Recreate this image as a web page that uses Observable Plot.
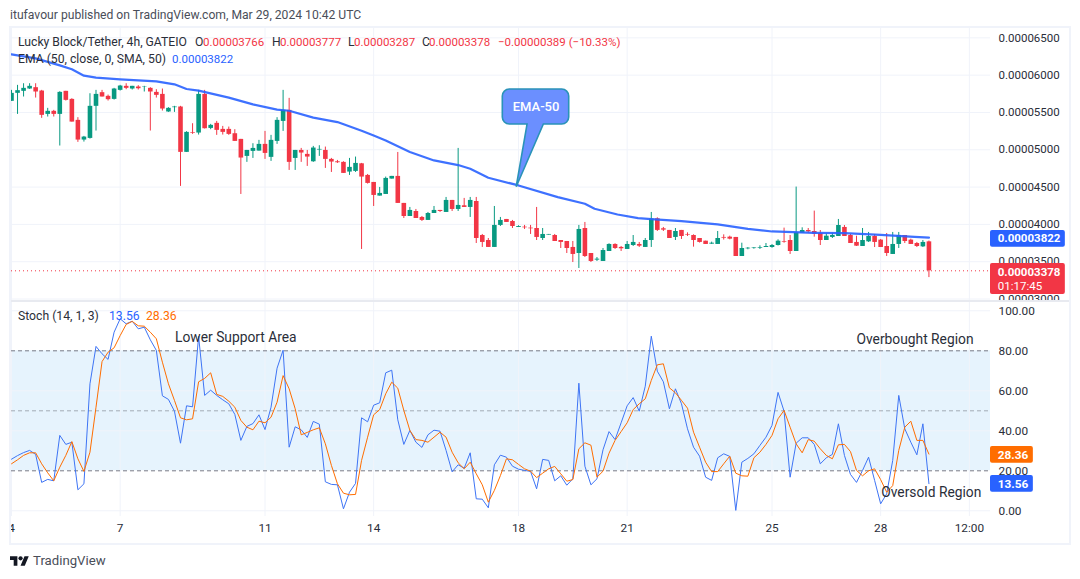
<!DOCTYPE html>
<html>
<head>
<meta charset="utf-8">
<script src="https://cdn.jsdelivr.net/npm/d3@7"></script>
<script src="https://cdn.jsdelivr.net/npm/@observablehq/plot@0.6"></script>
<style>
  html, body { margin: 0; background: #fff; }
  body { width: 1080px; height: 579px; position: relative; overflow: hidden; font-family: Roboto, sans-serif; color: #2a2e39; }
  .abs { position: absolute; white-space: pre; font-size: 12.2px; line-height: 16px; }
  .num { font-size: 11.5px; }
  .frame { position: absolute; left: 9px; top: 26px; width: 1058px; height: 515px; border: 2px solid #f0f3fa; }
  .sep { position: absolute; left: 11px; top: 300px; width: 1058px; height: 2px; background: #e8eaf0; }
  #top, #bottom { position: absolute; left: 11px; }
  #top { top: 28px; } #bottom { top: 302px; }
  .up { color: #f23645; } .blue { color: #2962ff; } .orange { color: #ff6d00; } .gray { color: #4a4e59; }
</style>
</head>
<body>
<div id="top"></div>
<div id="bottom"></div>
<div class="frame"></div>
<div class="sep"></div>
<div class="abs gray" style="left:10px;top:7px;font-size:12.15px">itufavour published on TradingView.com, Mar 29, 2024 10:42 UTC</div>
<div class="abs" style="left:18px;top:34px">Lucky Block/Tether, 4h, GATEIO</div>
<div class="abs" style="left:195px;top:34px">O</div><div class="abs num up" style="left:203px;top:34px">0.00003766</div>
<div class="abs" style="left:272px;top:34px">H</div><div class="abs num up" style="left:280px;top:34px">0.00003777</div>
<div class="abs" style="left:348px;top:34px">L</div><div class="abs num up" style="left:354px;top:34px">0.00003287</div>
<div class="abs" style="left:422px;top:34px">C</div><div class="abs num up" style="left:429px;top:34px">0.00003378</div>
<div class="abs num up" style="left:498px;top:34px">−0.00000389 (−10.33%)</div>
<div class="abs" style="left:18px;top:51px">EMA (50, close, 0, SMA, 50)</div>
<div class="abs num blue" style="left:172px;top:51px">0.00003822</div>
<div class="abs" style="left:18px;top:308px">Stoch (14, 1, 3)</div>
<div class="abs blue" style="left:109px;top:308px">13.56</div>
<div class="abs orange" style="left:146px;top:308px">28.36</div>
<svg style="position:absolute;left:10px;top:556px" width="19" height="10" viewBox="0 0 36 18"><path fill="#131722" d="M14 18H7V7H0V0h14v18zM28 18h-8L27.5 0h8L28 18z"/><circle cx="20" cy="4" r="4" fill="#131722"/></svg>
<div class="abs gray" style="left:33px;top:553px;font-size:13.2px">TradingView</div>
<script>
// prices in 1e-8 units, one entry per 4h bar
const open = [5649,5756,5783,5814,5832,5787,5474,5515,5474,5783,5675,5394,5130,5152,5582,5765,5716,5675,5796,5850,5814,5841,5836,5823,5769,5742,5506,5564,5573,4965,5228,5224,5742,5286,5354,5273,5273,5215,5139,4911,4978,4982,5072,4898,5112,5380,5528,4884,4991,4938,4839,4996,4991,4871,4839,4831,4701,4710,4812,4656,4562,4379,4401,4607,4643,4281,4106,4173,4093,4053,4146,4187,4160,4321,4200,4249,4227,4307,3851,3784,3691,3986,4066,4039,3959,3963,3950,3945,3811,3856,3851,3784,3771,3691,3610,3945,3610,3521,3503,3637,3731,3691,3664,3717,3731,3691,3784,4075,3941,3919,3825,3919,3865,3851,3811,3775,3735,3731,3825,3829,3825,3570,3672,3676,3681,3690,3690,3717,3771,3784,3637,3882,3918,3905,3878,3784,3825,3838,3959,3851,3758,3704,3766,3838,3789,3704,3597,3731,3851,3789,3744,3699,3766];
const high = [5796,5863,5885,5885,5885,5796,5555,5528,5778,5783,5684,5430,5179,5751,5796,5796,5733,5823,5863,5885,5850,5859,5850,5832,5805,5814,5564,5582,5582,5242,5349,5796,5796,5340,5380,5313,5304,5269,5139,4991,5081,5126,5246,5193,5430,5796,5689,4991,5018,4991,5045,5054,5036,4884,4857,4839,4884,4902,4817,4669,4562,4495,4634,4643,4964,4281,4227,4200,4106,4160,4240,4187,4361,4321,5018,4348,4361,4361,3865,3811,4240,4093,4066,4053,3981,3986,3986,4227,3945,3865,3865,3784,3771,3771,3986,4026,3610,3556,3677,3740,3740,3704,3771,3851,3758,3811,4160,4088,3959,3919,3945,3919,3887,3860,3811,3775,3762,3905,3860,3842,3825,3748,3690,3690,3713,3744,3730,3793,3950,3851,4500,3954,3945,4178,3918,3874,3883,4066,3985,3865,3842,3945,3892,3865,3798,3878,3892,3892,3851,3802,3758,3784,3777];
const low = [5649,5474,5707,5809,5693,5421,5439,5439,5050,5653,5371,5099,5103,5143,5251,5707,5653,5666,5787,5805,5801,5801,5774,5251,5693,5519,5501,5501,4509,4965,5206,5197,5278,5269,5193,5197,5193,5112,4401,4831,4884,4982,4871,4844,5072,5246,4723,4723,4831,4777,4831,4911,4750,4696,4817,4683,4656,4696,3664,4540,4240,4379,4401,4607,4281,4079,4106,4079,4039,4053,4146,4160,4160,4173,4173,4227,4093,3744,3691,3691,3691,3972,4026,3945,3959,3932,3865,3784,3784,3856,3771,3677,3610,3489,3409,3556,3489,3503,3503,3637,3664,3637,3664,3704,3691,3691,3691,3905,3905,3811,3784,3798,3838,3695,3750,3731,3731,3731,3790,3793,3570,3570,3660,3668,3664,3690,3680,3710,3748,3597,3637,3882,3882,3829,3717,3784,3811,3838,3838,3744,3704,3704,3758,3690,3690,3570,3597,3677,3744,3731,3690,3690,3287];
const close = [5756,5792,5823,5850,5774,5461,5515,5474,5769,5662,5371,5130,5170,5582,5742,5707,5671,5814,5854,5823,5850,5818,5841,5774,5729,5546,5555,5573,4965,5233,5219,5742,5282,5327,5260,5233,5206,5112,4889,4991,5018,5072,4951,5126,5394,5528,4831,4991,4956,4902,5023,5005,4871,4835,4826,4683,4764,4817,4634,4549,4388,4415,4616,4643,4281,4106,4187,4079,4053,4146,4187,4173,4321,4200,4254,4227,4321,3811,3758,3691,3986,4053,4026,3972,3972,3954,3941,3825,3865,3865,3771,3758,3677,3597,3932,3570,3503,3534,3650,3731,3677,3673,3731,3758,3708,3784,4071,3919,3923,3811,3905,3838,3856,3784,3758,3731,3748,3811,3815,3802,3570,3677,3681,3684,3690,3704,3717,3775,3762,3637,3887,3918,3900,3869,3784,3842,3851,3985,3838,3744,3708,3784,3838,3758,3690,3610,3731,3851,3771,3731,3704,3758,3378];

const emaIdx = [0,4,8,10,12,14,18,24,27,29,31,36,40,44,46,50,54,58,60,62,66,70,74,76,79,84,90.5,95,96.6,100.4,103.8,106,111,117,122,126,133,138,144,149.6,152];
const emaVals = [6279,6225,6131,6078,5993,5966,5944,5917,5877,5814,5792,5698,5608,5537,5523,5430,5371,5255,5192,5125,4969,4857,4795,4745,4625,4522,4366,4276,4209,4133,4084,4070,4044,4000,3941,3905,3887,3883,3860,3833,3822];

const stochK = [25.8,27.6,29.1,30.2,28.2,14.2,15.7,15,37.7,33.2,34.3,10.5,13.5,63.5,82.2,78.5,75.7,89.3,96,93.5,94.8,91,91.8,85.5,80.2,57.5,55.7,49.8,33.8,52.5,52,87.2,57.7,60.3,57.7,55.5,53.5,48.2,35.2,42.2,43.6,48,40.6,51.8,71.3,80.3,31.8,42,40.5,36.7,44.7,43.3,14.5,13.2,13,1,9.3,13.7,46.5,44.5,52.8,54,69,70.3,45.5,33.2,40.2,34.3,31.7,38,40.3,39.8,30.2,19.5,23,21.3,29,6,5.8,1.5,23,27.8,26.8,22.3,20.8,20.2,19.7,11,25.7,25.2,15,17.5,12.8,16,63.8,22.3,13,16,30.5,39.6,35.6,44,52.5,56.6,49.8,62.3,87.3,69.8,64.5,51,61,53.5,41,31.8,27.3,16.8,15.2,26.5,28.5,27.2,0.2,24.3,26.2,28.5,32.7,36.8,42.7,59.2,49.8,16.8,33.8,36.5,36.5,33.2,23.5,26.5,28.2,43.5,27.7,18.2,14.2,20.2,26.8,15.2,3.5,8.5,25.2,57.7,41,34.3,28,43.5,13.56];
const stochD = [23.5,25.5,27.7,29,29,23.5,19,15,21.8,27.7,34.6,26,19.7,29.3,51.8,74.6,79.3,81.5,87.6,93.2,94.7,92.5,92.3,89.3,86,74.3,63.5,55.2,46.5,45.5,46,64.5,66.2,69,58.2,57.2,54.8,51.8,45.2,41.8,40.5,44.8,44,46.8,54.3,67.6,61,51,38,39.2,40.5,41.5,33.5,22.7,13.5,8.8,8,8.2,25.2,36.8,48,50.6,58.5,64.3,61.3,50.2,40.2,35.6,35.2,34.3,36.8,39.3,36.8,29.3,24,21,24.3,18.5,13,4.3,10.2,17.6,26,25.5,23.2,21,19.8,16.6,18.8,21,22.2,18.5,14.8,15.6,31,34,32.8,16.8,19.8,28.8,35.2,39.6,44,50.6,53.5,56,65.2,73,73.5,61.5,59,55.2,51.3,39.3,31.8,24.3,19.6,19.6,23.5,27.3,18.8,17.5,17.3,26.5,29.3,33.2,37.7,46,50.2,41.8,33.5,29,35.6,34.8,31,27.7,26,33,33.2,29.6,20.2,17.5,20,21,15.6,9.3,12.6,30.2,41.8,44.8,35.2,35.2,28.36];

const priceTicks = [3000,3500,4000,4500,5000,5500,6000,6500];
const stochTicks = [0,20,40,60,80,100];
const gridStoch = [0,40,60,100];
const dayIdx = [0,18,42,60,84,102,126,144,158.7];
const dayLabels = ["4","7","11","14","18","21","25","28","12:00"];

const green = "#089981", red = "#f23645", blue = "#2962ff", orange = "#ff6d00", grid = "#f0f3fa";
const font = "Roboto, sans-serif";
const xMax = 162.2, tagLeft = 163.4;

const candles = open.map((o, i) => ({i, open: o, high: high[i], low: low[i], close: close[i]}));
const emaRows = emaIdx.map((x, i) => ({x, y: emaVals[i]}));
const kRows = stochK.map((v, i) => ({i, v}));
const dRows = stochD.map((v, i) => ({i, v}));
const candleColor = d => d.close >= d.open ? green : red;

// speech bubble pointing at the EMA line
function callout(index, {x, y}) {
  const x1 = x(81.4), x2 = x(92.4), y1 = y(5807), y2 = y(5338), r = 7;
  const p = d3.path();
  p.moveTo(x1 + r, y1);
  p.arcTo(x2, y1, x2, y2, r);
  p.arcTo(x2, y2, x1, y2, r);
  p.lineTo(x(88.2), y2);
  p.lineTo(x(83.7), y(4498));
  p.lineTo(x(85.5), y2);
  p.arcTo(x1, y2, x1, y1, r);
  p.arcTo(x1, y1, x2, y1, r);
  p.closePath();
  return d3.create("svg:path").attr("d", p.toString())
    .attr("fill", "#6b8fff").attr("stroke", "#2a93b8").attr("stroke-width", 1.6).node();
}

const topChart = Plot.plot({
  width: 1058, height: 272,
  marginLeft: 0, marginRight: 79, marginTop: 0, marginBottom: 0,
  style: {fontFamily: font, fontSize: "11.5px", color: "#2a2e39", background: "transparent"},
  x: {domain: [0, xMax], axis: null},
  y: {domain: [2980, 6625], axis: null},
  marks: [
    Plot.ruleY(priceTicks, {stroke: grid}),
    Plot.ruleX(dayIdx, {stroke: grid}),
    Plot.ruleY([3378], {stroke: red, strokeDasharray: "1,3"}),
    Plot.ruleX(candles, {x: "i", y1: "low", y2: "high", stroke: candleColor, strokeWidth: 1}),
    Plot.ruleX(candles, {x: "i", y1: "open", y2: "close", stroke: candleColor, strokeWidth: 4.6}),
    Plot.line(emaRows, {x: "x", y: "y", stroke: blue, strokeWidth: 2.2, strokeOpacity: 0.9}),
    callout,
    Plot.text(["EMA-50"], {x: 86.9, y: 5570, fill: "white", fontSize: 13, fontWeight: 500}),
    Plot.axisY({ticks: priceTicks, anchor: "right", tickSize: 0, tickPadding: 8, label: null, tickFormat: d => (d / 1e8).toFixed(8)}),
    Plot.rect([0], {x1: xMax, x2: 174.6, y1: 3695, y2: 3918, fill: blue, rx: 2}),
    Plot.text(["0.00003822"], {x: tagLeft, y: 3815, fill: "white", fontWeight: 700, textAnchor: "start"}),
    Plot.rect([0], {x1: xMax, x2: 174.6, y1: 3060, y2: 3476, fill: red, rx: 2}),
    Plot.text(["0.00003378"], {x: tagLeft, y: 3355, fill: "white", fontWeight: 700, textAnchor: "start"}),
    Plot.text(["01:17:45"], {x: tagLeft, y: 3168, fill: "white", textAnchor: "start"})
  ]
});
document.querySelector("#top").append(topChart);

const annotation = {fill: "#2a2e39", fontSize: 13.8, textAnchor: "start"};
const bottomChart = Plot.plot({
  width: 1058, height: 241,
  marginLeft: 0, marginRight: 79, marginTop: 0, marginBottom: 27,
  style: {fontFamily: font, fontSize: "11.8px", color: "#2a2e39", background: "transparent"},
  x: {domain: [0, xMax], axis: null},
  y: {domain: [-2.85, 104.15], axis: null},
  marks: [
    Plot.rect([0], {x1: 0, x2: xMax, y1: 20, y2: 80, fill: "#e3f2fd", fillOpacity: 0.9}),
    Plot.ruleY(gridStoch, {stroke: grid}),
    Plot.ruleX(dayIdx, {stroke: grid}),
    Plot.ruleY([20, 80], {stroke: "#787b86", strokeDasharray: "4,3"}),
    Plot.ruleY([50], {stroke: "#787b86", strokeOpacity: 0.6, strokeDasharray: "4,3"}),
    Plot.line(kRows, {x: "i", y: "v", stroke: "#3e74f5", strokeWidth: 1}),
    Plot.line(dRows, {x: "i", y: "v", stroke: orange, strokeWidth: 1}),
    Plot.text(["Lower Support Area"], {...annotation, x: 27.1, y: 86.4}),
    Plot.text(["Overbought Region"], {...annotation, x: 140, y: 85.5}),
    Plot.text(["Oversold Region"], {...annotation, x: 144.1, y: 9}),
    Plot.axisY({ticks: stochTicks, anchor: "right", tickSize: 0, tickPadding: 8, label: null, tickFormat: d => d.toFixed(2)}),
    Plot.axisX({ticks: dayIdx, anchor: "bottom", tickSize: 0, tickPadding: 7, label: null, tickFormat: d => dayLabels[dayIdx.indexOf(d)]}),
    Plot.rect([0], {x1: xMax, x2: 169.3, y1: 23.8, y2: 32.15, fill: orange, rx: 2}),
    Plot.text(["28.36"], {x: tagLeft, y: 28, fill: "white", fontWeight: 700, textAnchor: "start"}),
    Plot.rect([0], {x1: xMax, x2: 169.3, y1: 9.3, y2: 17.65, fill: blue, rx: 2}),
    Plot.text(["13.56"], {x: tagLeft, y: 13.5, fill: "white", fontWeight: 700, textAnchor: "start"})
  ]
});
document.querySelector("#bottom").append(bottomChart);
</script>
</body>
</html>
